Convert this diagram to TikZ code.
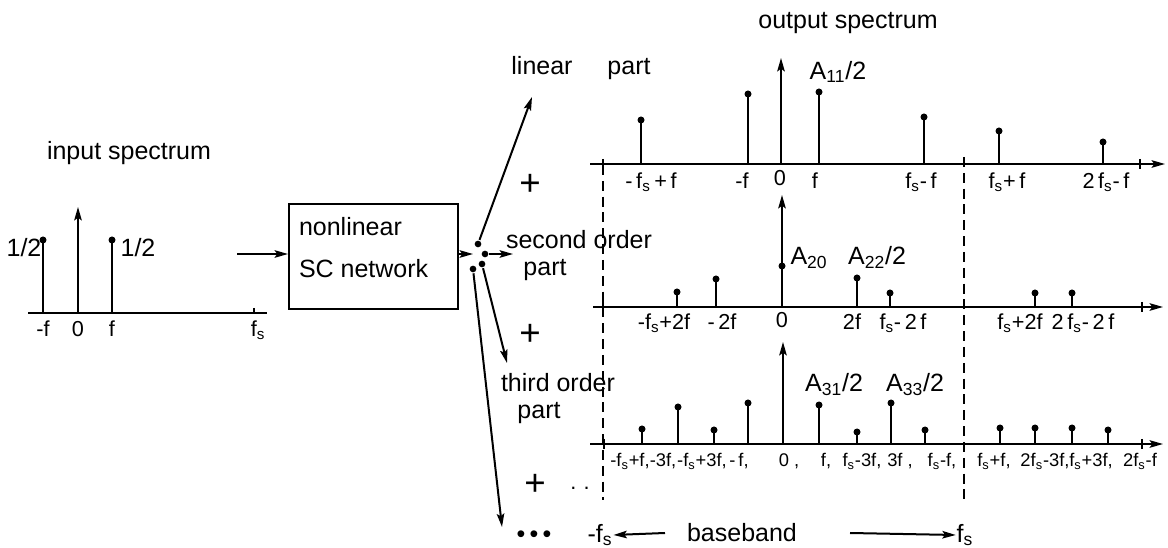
\documentclass[tikz,border=0pt]{standalone}
\usepackage{fontspec}
\setmainfont{Liberation Sans}
\usetikzlibrary{arrows.meta}
\newcommand\fsx{f\textsubscript{s}}
\newcommand\Asx[1]{A\textsubscript{#1}}
\begin{document}
\begin{tikzpicture}[x=0.6pt,y=-0.6pt,
  line width=1.2pt,
  every node/.style={inner sep=0pt, font=\fontsize{15}{17}\selectfont},
  lbl/.style={anchor=base, font=\fontsize{13}{15}\selectfont},
  tlbl/.style={anchor=base, font=\fontsize{11}{13}\selectfont},
  plussign/.style={font=\fontsize{22}{24}\selectfont},
  arr/.style={-{Stealth[length=8pt,width=4.5pt,inset=1.5pt]}},
  dashline/.style={line width=1pt, dash pattern=on 6pt off 3.5pt},
  hub/.style={circle, fill, inner sep=0pt, minimum size=4pt},
  blockbox/.style={draw, line width=1.2pt, anchor=north west, minimum width=101.4pt, minimum height=63pt},
  ]
\useasboundingbox (0,0) rectangle (1168,548);

% ---------------- input spectrum ----------------
\node (intitle) at (129,153) {input spectrum};
\draw (28,313) -- (267,313);
\draw (254,308) -- (254,313);
\foreach \x in {43,112} {\draw (\x,313) -- (\x,240); \fill (\x,240) circle[radius=2.1pt];}
\draw[arr] (78,313) -- (78,207);
\node (inhl) at (24,248) {1/2};
\node (inhr) at (138,248) {1/2};
\node[lbl] (inlm) at (43,337) {-f};
\node[lbl] (inl0) at (78,337) {0};
\node[lbl] (inlf) at (112,337) {f};
\node[lbl] (inlfs) at (258,337) {\fsx};

% ---------------- block ----------------
\node[blockbox] (box) at (288,203) {};
\node[anchor=west] (boxt1) at (298,227) {nonlinear};
\node[anchor=west] (boxt2) at (298,269) {SC network};
\coordinate (in) at (237,254);
\draw[arr] (in) -- (in -| box.west);
\coordinate (hubin) at (473,254);
\draw[arr] (box.east |- hubin) -- (hubin);
\node[hub] (d1) at (478,244) {};
\node[hub] (d2) at (485,254) {};
\node[hub] (d3) at (473,269) {};
\node[hub] (d4) at (482,264) {};
\coordinate (linend) at (532,97);
\coordinate (secend) at (513,254);
\coordinate (thirdend) at (507,363);
\coordinate (moreend) at (502,527);
\draw[arr] (d1) -- (linend);
\draw[arr] (d2) -- (secend);
\draw[arr] (d4) -- (thirdend);
\draw[arr] (d3) -- (moreend);

% ---------------- texts ----------------
\node (outtitle) at (848,23) {output spectrum};
\node[anchor=base] (lin1) at (542,75) {linear};
\node[anchor=base] (lin2) at (629,75) {part};
\node[anchor=base] (sec1) at (579,249) {second order};
\node[anchor=base] (sec2) at (545,276) {part};
\node[anchor=base] (thi1) at (558,392) {third order};
\node[anchor=base] (thi2) at (539,419) {part};
\node[plussign] (plus1) at (530,185) {+};
\node[plussign] (plus2) at (530,335) {+};
\node[plussign] (plus3) at (535,485) {+};
\node[lbl] (dd) at (580,490) {.\,\,.};
\node (a11) at (838,72) {\Asx{11}/2};
\node (a20) at (809,258) {\Asx{20}};
\node (a22) at (877,257) {\Asx{22}/2};
\node (a31) at (834,385) {\Asx{31}/2};
\node (a33) at (915,385) {\Asx{33}/2};

% ---------------- dashed lines ----------------
\draw[dashline] (603,165) -- (603,500);
\draw[dashline] (964,157) -- (964,505);

% ---------------- linear part axis ----------------
\draw[arr] (590,164) -- (1165,164);
\foreach \x in {603,1140} \draw (\x,159) -- (\x,169);
\draw[arr] (781,164) -- (781,58);
\foreach \x/\t in {641/120,748/94,819/92,924/117,999/131,1103/142}
  {\draw (\x,164) -- (\x,\t); \fill (\x,\t) circle[radius=2.1pt];}
\node[lbl] (l1a) at (651,189) {-\,\fsx\,+\,f};
\node[lbl] (l1b) at (742,189) {-f};
\node[lbl] (l1c) at (780,186) {0};
\node[lbl] (l1d) at (815,189) {f};
\node[lbl] (l1e) at (921,189) {\fsx-\,f};
\node[lbl] (l1f) at (1007,189) {\fsx+\,f};
\node[lbl] (l1g) at (1106,189) {2\,\fsx-\,f};

% ---------------- second order axis ----------------
\draw[arr] (593,307) -- (1163,307);
\foreach \x in {603,1142} \draw (\x,302) -- (\x,312);
\draw[arr] (782,307) -- (782,195);
\fill (782,266) circle[radius=2.1pt];
\foreach \x/\t in {677/292,716/279,857/278,890/293,1035/293,1072/293}
  {\draw (\x,307) -- (\x,\t); \fill (\x,\t) circle[radius=2.1pt];}
\node[lbl] (l2a) at (664,330) {-\fsx+2f};
\node[lbl] (l2b) at (722,330) {-\,2f};
\node[lbl] (l2c) at (782,328) {0};
\node[lbl] (l2d) at (852,330) {2f};
\node[lbl] (l2e) at (903,330) {\fsx-\,2\,f};
\node[lbl] (l2f) at (1020,330) {\fsx+2f};
\node[lbl] (l2g) at (1083,330) {2\,\fsx-\,2\,f};

% ---------------- third order axis ----------------
\draw[arr] (590,444) -- (1163,444);
\foreach \x in {604,1142} \draw (\x,439) -- (\x,449);
\draw[arr] (783,444) -- (783,342);
\foreach \x/\t in {642/429,678/407,714/430,748/403,819/405,857/432,891/403,925/430,1000/428,1035/428,1072/428,1108/430}
  {\draw (\x,444) -- (\x,\t); \fill (\x,\t) circle[radius=2.1pt];}
\node[tlbl] (l3a) at (630,467) {-\fsx+f,};
\node[tlbl] (l3b) at (663,467) {-3f,};
\node[tlbl] (l3c) at (702,467) {-\fsx+3f,};
\node[tlbl] (l3d) at (739,467) {-\,f,};
\node[tlbl] (l3e) at (789,467) {0 ,};
\node[tlbl] (l3f) at (826,467) {f,};
\node[tlbl] (l3g) at (862,467) {\fsx-3f,};
\node[tlbl] (l3h) at (900,467) {3f ,};
\node[tlbl] (l3i) at (942,467) {\fsx-f,};
\node[tlbl] (l3j) at (994,467) {\fsx+f,};
\node[tlbl] (l3k) at (1045,467) {2f\textsubscript{s}-3f,};
\node[tlbl] (l3l) at (1091,467) {\fsx+3f,};
\node[tlbl] (l3m) at (1140,467) {2\fsx-f};

% ---------------- baseband ----------------
\node (dots) at (534,537) {\textbullet\,\textbullet\,\textbullet};
\node (mfs) at (600,535) {-\fsx};
\node (bb) at (742,533) {baseband};
\node (pfs) at (965,535) {\fsx};
\coordinate (la) at (665,533);
\coordinate (ra) at (850,533);
\draw[arr] (la) -- (mfs.east);
\draw[arr] (ra) -- (pfs.west);
\end{tikzpicture}
\end{document}
